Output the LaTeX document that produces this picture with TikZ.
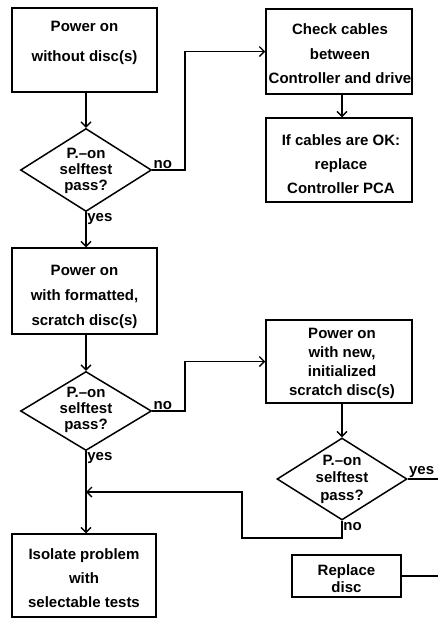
\documentclass[tikz,border=0pt]{standalone}
\usepackage{fontspec}
\newfontfamily\dfont{Liberation Sans}
\usetikzlibrary{shapes.geometric,arrows.meta}
\begin{document}
\begin{tikzpicture}[x=1pt,y=-1pt,
  ls/.style={font=\dfont\bfseries\fontsize{15}{#1}\selectfont},
  box/.style={draw, line width=1.5pt, inner sep=0pt, rectangle},
  dia/.style={draw, diamond, line width=1.5pt, inner sep=0pt},
  txt/.style={align=center, inner sep=0pt},
  lbl/.style={inner sep=1.2pt, ls=16},
  conn/.style={line width=1.5pt},
  arr/.style={conn, -{Straight Barb[length=5pt,width=10pt,line width=1.3pt]}}]
\fill[white] (0,0) rectangle (438,619);
\useasboundingbox (0,0) rectangle (438,619);
% boxes
\node[box, minimum width=145pt, minimum height=84pt] (b1) at (84.5,50) {};
\node[txt, ls=30] (t1) at (84.5,43) {Power on\\without disc(s)};
\node[dia, minimum width=131pt, minimum height=83pt] (d1) at (86,170) {};
\node[txt, ls=16] (td1) at (86,171) {P.–on\\selftest\\pass?};
\node[box, minimum width=145pt, minimum height=86pt] (b3) at (84.5,291) {};
\node[txt, ls=25] (t3) at (84.5,297) {Power on\\with formatted,\\scratch disc(s)};
\node[dia, minimum width=131pt, minimum height=79pt] (d2) at (86,411) {};
\node[txt, ls=16] (td2) at (86,410) {P.–on\\selftest\\pass?};
\node[box, minimum width=144pt, minimum height=83pt] (b5) at (84,575.5) {};
\node[txt, ls=24] (t5) at (84,578) {Isolate problem\\with\\selectable tests};
\node[box, minimum width=146pt, minimum height=85pt] (b2) at (339,51.5) {};
\node[txt, ls=24.5] (t2) at (340,54) {Check cables\\between\\Controller and drive};
\node[box, minimum width=146pt, minimum height=84pt] (b6) at (339,160) {};
\node[txt, ls=24] (t6) at (341,164) {If cables are OK:\\replace\\Controller PCA};
\node[box, minimum width=146pt, minimum height=83pt] (b4) at (339,361.5) {};
\node[txt, ls=19] (t4) at (342,363) {Power on\\with new,\\initialized\\scratch disc(s)};
\node[dia, minimum width=130pt, minimum height=82pt] (d3) at (342,479) {};
\node[txt, ls=17.5] (td3) at (342,479) {P.–on\\selftest\\pass?};
\node[box, minimum width=109pt, minimum height=42pt] (b7) at (346.5,576) {};
\node[txt, ls=17] (t7) at (346.5,578.5) {Replace\\disc};
% helper coordinates
\coordinate (k1) at (185,0);
\coordinate (e1) at (440,0);
\coordinate (k2) at (242,538);
\coordinate (m) at (86,492);
% connectors
\draw[arr] (b1.south -| d1.north) -- (d1.north);
\draw[arr] (d1.east) -| (k1 |- b2.west) -- (b2.west);
\draw[arr] (b2.south -| d3.north) -- (b6.north -| d3.north);
\draw[arr] (d1.south) -- (b3.north -| d1.south);
\draw[arr] (b3.south -| d2.north) -- (d2.north);
\draw[arr] (d2.east) -| (k1 |- b4.west) -- (b4.west);
\draw[arr] (b4.south -| d3.north) -- (d3.north);
\draw[conn] (d3.east) -- (d3.east -| e1);
\draw[arr] (d3.south) |- (k2) |- (m);
\draw[arr] (d2.south) -- (b5.north -| d2.south);
\draw[conn] (b7.east) -- (b7.east -| e1);
% labels
\node[lbl, anchor=south west] (n1) at (d1.east) {no};
\node[lbl, anchor=north west] (y1) at (d1.south) {yes};
\node[lbl, anchor=south west] (n2) at (d2.east) {no};
\node[lbl, anchor=north west] (y2) at (d2.south) {yes};
\node[lbl, anchor=south west] (y3) at (d3.east) {yes};
\node[lbl, anchor=north west] (n3) at (d3.south) {no};
\end{tikzpicture}
\end{document}
